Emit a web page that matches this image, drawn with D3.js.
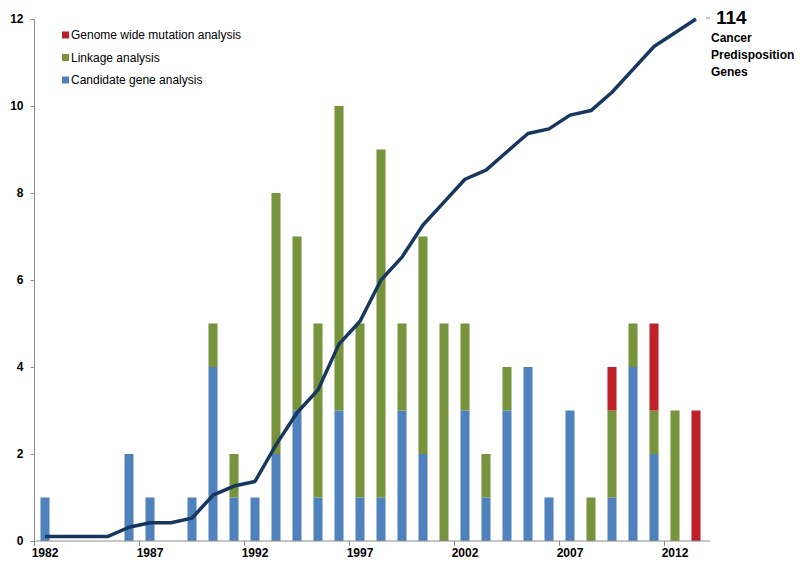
<!DOCTYPE html>
<html>
<head>
<meta charset="utf-8">
<script src="https://cdn.jsdelivr.net/npm/d3@7"></script>
<style>
  body { margin: 0; background: #fff; }
  text { font-family: "Liberation Sans", Arial, sans-serif; }
</style>
</head>
<body>
<div id="grafica"></div>
<script>
// Datos: genes por año y metodo de descubrimiento
const years = d3.range(1982, 2014);
const candidate = [1,0,0,0,2,1,0,1,4,1,1,2,3,1,3,1,1,3,2,0,3,1,3,4,1,3,0,1,4,2,0,0];
const linkage   = [0,0,0,0,0,0,0,0,1,1,0,6,4,4,7,4,8,2,5,5,2,1,1,0,0,0,1,2,1,1,3,0];
const genome    = [0,0,0,0,0,0,0,0,0,0,0,0,0,0,0,0,0,0,0,0,0,0,0,0,0,0,0,1,0,2,0,3];
const yTicks = [0, 2, 4, 6, 8, 10, 12];
const yearLabels = [1982, 1987, 1992, 1997, 2002, 2007, 2012];
const legendItems = ["Genome wide mutation analysis", "Linkage analysis", "Candidate gene analysis"];

const colors = { candidate: "#4f81bd", linkage: "#77933c", genome: "#c0202a" };

const width = 800, height = 572;
const svg = d3.select("#grafica").append("svg")
    .attr("width", width)
    .attr("height", height);

// escalas
const x = d3.scaleBand()
    .domain(years)
    .range([34.5, 706.5])
    .paddingInner(0.57)
    .paddingOuter(0.285);

const y = d3.scaleLinear()
    .domain([0, 12])
    .range([541, 19]);

// filas para el apilado
const rows = years.map((yr, i) => ({
  year: yr, candidate: candidate[i], linkage: linkage[i], genome: genome[i]
}));

const stack = d3.stack().keys(["candidate", "linkage", "genome"]);
const series = stack(rows);

svg.append("g")
  .selectAll("g")
  .data(series)
  .join("g")
    .attr("fill", d => colors[d.key])
  .selectAll("rect")
  .data(d => d.filter(p => p[1] > p[0]))
  .join("rect")
    .attr("x", d => x(d.data.year))
    .attr("y", d => y(d[1]))
    .attr("width", x.bandwidth())
    .attr("height", d => y(d[0]) - y(d[1]));

// eje Y
const yAxis = svg.append("g")
    .attr("transform", "translate(34.5,0)")
    .call(d3.axisLeft(y).tickValues(yTicks).tickSize(4).tickPadding(7));
yAxis.select(".domain").attr("stroke", "#8c8c8c").attr("d", "M0," + y(12) + "V" + y(0));
yAxis.selectAll(".tick line").attr("stroke", "#8c8c8c");
yAxis.selectAll(".tick text")
    .attr("font-size", 12).attr("font-weight", "bold").attr("fill", "#000")
    .style("font-family", "'Liberation Sans', Arial, sans-serif");

// eje X: marcas entre categorias, etiqueta cada 5 años
const xAxisG = svg.append("g").attr("transform", "translate(0," + y(0) + ")");
xAxisG.append("line")
    .attr("x1", 34.5).attr("x2", 710)
    .attr("stroke", "#8c8c8c");
xAxisG.selectAll("line.tk")
  .data(yearLabels)
  .join("line")
    .attr("class", "tk")
    .attr("x1", d => x(d) - x.step() * x.paddingInner() / 2)
    .attr("x2", d => x(d) - x.step() * x.paddingInner() / 2)
    .attr("y1", 0).attr("y2", 5)
    .attr("stroke", "#8c8c8c");
xAxisG.selectAll("text")
  .data(yearLabels)
  .join("text")
    .attr("x", d => x(d) + x.bandwidth() / 2)
    .attr("y", 16)
    .attr("text-anchor", "middle")
    .attr("font-size", 12)
    .attr("font-weight", "bold")
    .text(d => d);

// linea acumulada (114 genes = 12 en el eje)
const cum = Array.from(d3.cumsum(rows, d => d.candidate + d.linkage + d.genome));
const total = cum[cum.length - 1];
const line = d3.line()
    .x((d, i) => x(years[i]) + x.bandwidth() / 2)
    .y(d => y(d * 12 / total));

svg.append("path")
    .datum(cum)
    .attr("d", line)
    .attr("fill", "none")
    .attr("stroke", "#17375e")
    .attr("stroke-width", 3.5)
    .attr("stroke-linejoin", "round");

// etiqueta final
svg.append("line")
    .attr("x1", 706).attr("x2", 710)
    .attr("y1", y(12) - 1).attr("y2", y(12) - 1)
    .attr("stroke", "#8c8c8c");
svg.append("text")
    .attr("x", 716).attr("y", y(12) + 5)
    .attr("font-size", 19).attr("font-weight", "bold")
    .text(total);
["Cancer", "Predisposition", "Genes"].forEach((t, i) => {
  svg.append("text")
    .attr("x", 711).attr("y", 42 + i * 17)
    .attr("font-size", 12).attr("font-weight", "bold")
    .text(t);
});

// leyenda
const legend = svg.append("g");
const legColors = [colors.genome, colors.linkage, colors.candidate];
legendItems.forEach((t, i) => {
  const gy = 35 + i * 22.5;
  legend.append("rect")
    .attr("x", 62).attr("y", gy - 3.5)
    .attr("width", 7).attr("height", 7)
    .attr("fill", legColors[i]);
  legend.append("text")
    .attr("x", 71).attr("y", gy + 4)
    .attr("font-size", 12)
    .text(t);
});
</script>
</body>
</html>
